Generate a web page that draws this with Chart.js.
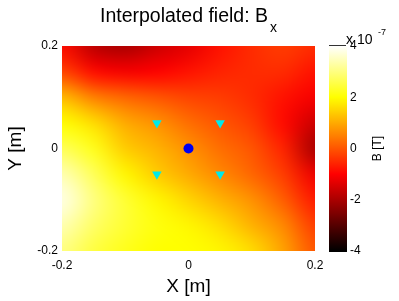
<!DOCTYPE html>
<html>
<head>
<meta charset="utf-8">
<script src="https://cdn.jsdelivr.net/npm/chart.js@4"></script>
<style>body{margin:0;background:#fff}</style>
</head>
<body>
<canvas id="c" width="399" height="301"></canvas>
<script>
// Bx field (units of 1e-7 T), rows go top (y=0.2) to bottom (y=-0.2)
const gridX = [-0.2, -0.15, -0.1, -0.05, 0, 0.05, 0.1, 0.15, 0.2];
const gridY = [0.2, 0.15, 0.1, 0.05, 0, -0.05, -0.1, -0.15, -0.2];
const bx = [
  [-0.9, -1.8, -2.0, -1.6, -1.3, -0.8, -0.5, -0.3, -0.5],
  [-0.2, -0.9, -1.1, -1.0, -0.8, -0.6, -0.5, -0.5, -0.8],
  [ 1.2,  0.5,  0.2,  0.0, -0.2, -0.3, -0.5, -0.8, -1.1],
  [ 2.0,  1.6,  1.0,  0.7,  0.3,  0.0, -0.3, -0.9, -1.6],
  [ 2.7,  2.2,  1.4,  1.1,  0.7,  0.3,  0.0, -0.6, -2.0],
  [ 3.4,  2.7,  1.9,  1.4,  1.0,  0.6,  0.2, -0.3, -1.2],
  [ 3.8,  3.0,  2.4,  1.9,  1.5,  1.1,  0.7,  0.1, -0.7],
  [ 3.4,  2.8,  2.4,  2.1,  1.9,  1.6,  1.1,  0.6, -0.3],
  [ 3.0,  2.5,  2.2,  2.0,  2.0,  1.9,  1.6,  0.9,  0.0]
];
const sensorX = [-0.05, 0.05, -0.05, 0.05];
const sensorY = [0.05, 0.05, -0.05, -0.05];
const centerX = [0];
const centerY = [0];
const axisTicks = [-0.2, 0, 0.2];
const cbTicks = [-4, -2, 0, 2, 4];
const cbMin = -4, cbMax = 4;

const FONT = "'Liberation Sans', Arial, sans-serif";

// matlab "hot" colormap
function hot(v) {
  let t = (v - cbMin) / (cbMax - cbMin);
  t = Math.max(0, Math.min(1, t));
  const r = Math.min(1, t / 0.375);
  const g = Math.max(0, Math.min(1, (t - 0.375) / 0.375));
  const b = Math.max(0, (t - 0.75) / 0.25);
  return [Math.round(r * 255), Math.round(g * 255), Math.round(b * 255)];
}

const heatmap = {
  id: 'heatmap',
  beforeDatasetsDraw(chart) {
    const { ctx, chartArea, scales: { x, y } } = chart;
    const off = document.createElement('canvas');
    off.width = gridX.length;
    off.height = gridY.length;
    const octx = off.getContext('2d');
    const img = octx.createImageData(off.width, off.height);
    bx.forEach((row, j) => row.forEach((v, i) => {
      const c = hot(v);
      const k = (j * off.width + i) * 4;
      img.data[k] = c[0]; img.data[k + 1] = c[1]; img.data[k + 2] = c[2]; img.data[k + 3] = 255;
    }));
    octx.putImageData(img, 0, 0);
    const dx = x.getPixelForValue(gridX[1]) - x.getPixelForValue(gridX[0]);
    const dy = y.getPixelForValue(gridY[1]) - y.getPixelForValue(gridY[0]);
    ctx.save();
    ctx.beginPath();
    ctx.rect(chartArea.left, chartArea.top, chartArea.width, chartArea.height);
    ctx.clip();
    ctx.imageSmoothingEnabled = true;
    ctx.imageSmoothingQuality = 'high';
    ctx.drawImage(off, x.getPixelForValue(gridX[0]) - dx / 2, y.getPixelForValue(gridY[0]) - dy / 2,
      dx * gridX.length, dy * gridY.length);
    ctx.restore();
  },
  afterDraw(chart) {
    const { ctx } = chart;
    const cb = chart.scales.cb;
    const top = cb.getPixelForValue(cbMax), bot = cb.getPixelForValue(cbMin);
    const grad = ctx.createLinearGradient(0, bot, 0, top);
    for (let i = 0; i <= 64; i++) {
      const c = hot(cbMin + (cbMax - cbMin) * i / 64);
      grad.addColorStop(i / 64, `rgb(${c[0]},${c[1]},${c[2]})`);
    }
    const cbLeft = cb.left + 14;
    ctx.save();
    ctx.fillStyle = grad;
    ctx.fillRect(cbLeft, top - 1, 18, bot - top + 2);
    ctx.strokeStyle = '#333';
    ctx.lineWidth = 1;
    ctx.beginPath();
    ctx.moveTo(cbLeft, top - 0.5);
    ctx.lineTo(cbLeft + 17, top - 0.5);
    ctx.stroke();

    // title with subscript
    ctx.fillStyle = '#000';
    ctx.textBaseline = 'alphabetic';
    ctx.textAlign = 'left';
    ctx.font = '19.5px ' + FONT;
    const main = 'Interpolated field: B';
    const w = ctx.measureText(main).width;
    ctx.font = '14px ' + FONT;
    const ws = ctx.measureText('x').width;
    const x0 = (chart.chartArea.left + chart.chartArea.right) / 2 - (w + ws + 2) / 2;
    ctx.font = '19.5px ' + FONT;
    ctx.fillText(main, x0, 22);
    ctx.font = '14px ' + FONT;
    ctx.fillText('x', x0 + w + 2, 32);

    // colorbar multiplier
    ctx.font = '14px ' + FONT;
    ctx.fillText('x 10', 346, 44);
    ctx.font = '9px ' + FONT;
    ctx.fillText('-7', 378, 35);

    // colorbar label
    ctx.font = '12px ' + FONT;
    ctx.textAlign = 'center';
    ctx.textBaseline = 'middle';
    ctx.translate(378, (top + bot) / 2);
    ctx.rotate(-Math.PI / 2);
    ctx.fillText('B [T]', 0, 0);
    ctx.restore();
  }
};

const tickFont = { family: FONT, size: 12 };
const titleFont = { family: FONT, size: 19 };
const noGrid = { display: false, drawTicks: false };

new Chart(document.getElementById('c'), {
  type: 'scatter',
  data: {
    datasets: [
      {
        data: sensorX.map((v, i) => ({ x: v, y: sensorY[i] })),
        pointStyle: 'triangle',
        rotation: 180,
        pointRadius: 5.5,
        backgroundColor: '#00eaea',
        borderWidth: 0
      },
      {
        data: centerX.map((v, i) => ({ x: v, y: centerY[i] })),
        pointStyle: 'circle',
        pointRadius: 5,
        backgroundColor: '#0000f0',
        borderWidth: 0
      }
    ]
  },
  options: {
    responsive: false,
    animation: false,
    devicePixelRatio: 1,
    layout: { padding: { top: 46, left: 0, right: 0, bottom: 0 } },
    plugins: { legend: { display: false }, tooltip: { enabled: false } },
    scales: {
      x: {
        type: 'linear', min: -0.2, max: 0.2,
        afterFit: s => { s.height = 50; },
        afterBuildTicks: s => { s.ticks = axisTicks.map(v => ({ value: v })); },
        grid: noGrid, border: { display: false },
        ticks: { font: tickFont, color: '#000', padding: 7, maxRotation: 0, callback: v => String(v) },
        title: { display: true, text: 'X [m]', font: titleFont, color: '#000', padding: { top: 0, bottom: 3 } }
      },
      y: {
        type: 'linear', min: -0.2, max: 0.2, position: 'left',
        afterFit: s => { s.width = 62; },
        afterBuildTicks: s => { s.ticks = axisTicks.map(v => ({ value: v })); },
        grid: noGrid, border: { display: false },
        ticks: { font: tickFont, color: '#000', padding: 4, callback: v => String(v) },
        title: { display: true, text: 'Y [m]', font: titleFont, color: '#000', padding: { top: 4, bottom: 0 } }
      },
      cb: {
        type: 'linear', axis: 'y', position: 'right', min: cbMin, max: cbMax,
        afterFit: s => { s.width = 84; },
        afterBuildTicks: s => { s.ticks = cbTicks.map(v => ({ value: v })); },
        grid: noGrid, border: { display: false },
        ticks: { font: tickFont, color: '#000', padding: 35, callback: v => String(v) }
      }
    }
  },
  plugins: [heatmap]
});
</script>
</body>
</html>
